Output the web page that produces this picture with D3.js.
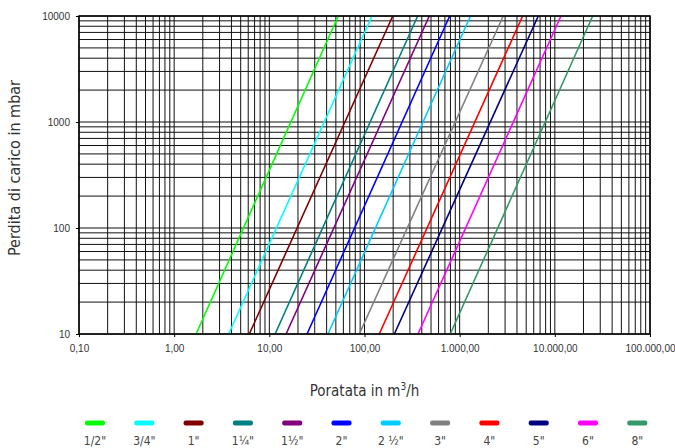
<!DOCTYPE html>
<html lang="it">
<head>
<meta charset="UTF-8">
<title>Perdita di carico</title>
<script src="https://d3js.org/d3.v7.min.js"></script>
<style>
  body { margin: 0; background: #fff; }
  svg { display: block; }
</style>
</head>
<body>
<script>
// diametri, colori e portate (m3/h) lette agli estremi del grafico
var sizes = ['1/2"', '3/4"', '1"', '1\u00BC"', '1\u00BD"', '2"', '2 \u00BD"', '3"', '4"', '5"', '6"', '8"'];
var colors = ["#00ff00", "#00ffff", "#800000", "#008080", "#800080", "#0000ff",
              "#00ccff", "#808080", "#ff0000", "#000080", "#ff00ff", "#339966"];
var pressures = [10, 10000];  // mbar
var flowLow  = [1.70, 3.74, 6.16, 11.5, 15.0, 24.9, 41.3, 88.2, 143, 206, 365, 797];
var flowHigh = [53.0, 120, 198, 362, 480, 785, 1300, 2870, 4590, 6700, 11600, 25000];
var xTicks = [0.1, 1, 10, 100, 1000, 10000, 100000];
var yTicks = [10, 100, 1000, 10000];

var width = 675, height = 448;
var pL = 79, pR = 650, pT = 16, pB = 334;

var it = d3.formatLocale({decimal: ",", thousands: ".", grouping: [3], currency: ["", "\u20AC"]});
var fmtX = it.format(",.2f");

var x = d3.scaleLog().domain([0.1, 100000]).range([pL, pR]);
var y = d3.scaleLog().domain([10, 10000]).range([pB, pT]);

var svg = d3.select("body").append("svg")
    .attr("width", width)
    .attr("height", height);

// griglia
var grid = svg.append("g");
grid.selectAll("line.v")
    .data(x.ticks())
    .enter().append("line")
    .attr("x1", d => x(d)).attr("x2", d => x(d))
    .attr("y1", pT).attr("y2", pB)
    .attr("stroke", "#111").attr("stroke-width", 1);
grid.selectAll("line.h")
    .data(y.ticks())
    .enter().append("line")
    .attr("y1", d => y(d)).attr("y2", d => y(d))
    .attr("x1", pL).attr("x2", pR)
    .attr("stroke", "#111").attr("stroke-width", 1);

// curve
var line = d3.line().x(d => x(d[0])).y(d => y(d[1]));
var plot = svg.append("g");
sizes.forEach(function(s, i) {
    var pts = [[flowLow[i], pressures[0]], [flowHigh[i], pressures[1]]];
    plot.append("path")
        .datum(pts)
        .attr("d", line)
        .attr("fill", "none")
        .attr("stroke", colors[i])
        .attr("stroke-width", 1.6);
});

// bordo
svg.append("rect")
    .attr("x", pL).attr("y", pT)
    .attr("width", pR - pL).attr("height", pB - pT)
    .attr("fill", "none").attr("stroke", "#000").attr("stroke-width", 1.5);

// assi
svg.append("g")
    .attr("transform", "translate(0," + pB + ")")
    .call(d3.axisBottom(x).tickValues(xTicks).tickFormat(fmtX).tickSize(3).tickPadding(8))
    .call(g => g.select(".domain").remove())
    .call(g => g.selectAll("text").attr("font-family", "Liberation Sans, Arial, sans-serif")
        .attr("font-size", 10).attr("fill", "#333"));

svg.append("g")
    .attr("transform", "translate(" + pL + ",0)")
    .call(d3.axisLeft(y).tickValues(yTicks).tickFormat(d3.format("d")).tickSize(3).tickPadding(6))
    .call(g => g.select(".domain").remove())
    .call(g => g.selectAll("text").attr("font-family", "Liberation Sans, Arial, sans-serif")
        .attr("font-size", 10).attr("fill", "#333"));

// titoli
var xt = svg.append("text")
    .attr("x", (pL + pR) / 2).attr("y", 396)
    .attr("text-anchor", "middle")
    .attr("font-family", "DejaVu Sans Condensed, Roboto, sans-serif")
    .attr("font-size", 15).attr("fill", "#333");
xt.append("tspan").text("Poratata in m");
xt.append("tspan").text("3").attr("font-size", 10).attr("dy", -6);
xt.append("tspan").text("/h").attr("dy", 6);

svg.append("text")
    .attr("transform", "translate(20," + 168 + ") rotate(-90)")
    .attr("text-anchor", "middle")
    .attr("font-family", "DejaVu Sans Condensed, Roboto, sans-serif")
    .attr("font-size", 16).attr("fill", "#333")
    .text("Perdita di carico in mbar");

// legenda
var legend = svg.append("g");
var item = legend.selectAll("g")
    .data(sizes)
    .enter().append("g")
    .attr("transform", (d, i) => "translate(" + (95 + i * 49.3) + ",0)");
item.append("rect")
    .attr("x", -10).attr("y", 420.5)
    .attr("width", 20).attr("height", 5).attr("rx", 2)
    .attr("fill", (d, i) => colors[i]);
item.append("text")
    .attr("y", 445)
    .attr("text-anchor", "middle")
    .attr("font-family", "DejaVu Sans Condensed, Roboto, sans-serif")
    .attr("font-size", 12).attr("fill", "#444")
    .text(d => d);
</script>
</body>
</html>
